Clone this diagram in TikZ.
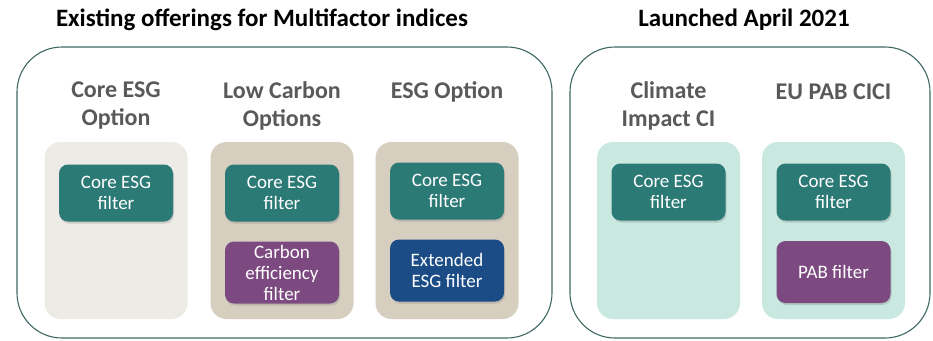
\documentclass[tikz,border=0pt]{standalone}
\usepackage{fontspec}
\setmainfont{Carlito}
\usetikzlibrary{shadows}
\definecolor{frameline}{RGB}{62,104,100}
\definecolor{headgrey}{RGB}{89,89,89}
\definecolor{paleback}{RGB}{237,235,230}
\definecolor{tanback}{RGB}{214,207,192}
\definecolor{mintback}{RGB}{201,233,224}
\definecolor{tealfill}{RGB}{44,122,118}
\definecolor{plumfill}{RGB}{124,74,128}
\definecolor{navyfill}{RGB}{28,76,134}
\begin{document}
\begin{tikzpicture}
  [x=1pt,y=-1pt
  ,group/.style={rectangle,rounded corners=45pt,draw=frameline,line width=1.1pt,
                 minimum height=291pt}
  ,panel/.style={rectangle,rounded corners=16pt,minimum width=143pt,minimum height=177pt}
  ,heading/.style={align=center,text=headgrey,font=\fontsize{24}{28}\selectfont\bfseries}
  ,title/.style={font=\fontsize{25}{28}\selectfont\bfseries}
  ,filterbox/.style={rectangle,rounded corners=9pt,minimum width=114pt,align=center,
                     text=white,font=\fontsize{19}{21}\selectfont,inner sep=1pt,
                     drop shadow={shadow xshift=1pt,shadow yshift=-2pt,opacity=0.3}}
  ,corebox/.style={filterbox,fill=tealfill,minimum height=57pt}
  ,lowerbox/.style={filterbox,minimum height=62pt}]
\useasboundingbox (0,0) rectangle (933,340);
% titles
\node at (262,20) (existing) [title] {Existing offerings for Multifactor indices};
\node at (744,20) (launched) [title] {Launched April 2021};
% outer frames
\node at (284.5,192.5) (oldgroup) [group,minimum width=535pt] {};
\node at (750,192.5) (newgroup) [group,minimum width=360pt] {};
% column panels
\node at (116,230.5)   (coreopt)  [panel,fill=paleback] {};
\node at (282,230.5)   (lowcarb)  [panel,fill=tanback] {};
\node at (447,230.5)   (esgopt)   [panel,fill=tanback] {};
\node at (668.5,230.5) (climate)  [panel,fill=mintback] {};
\node at (833.5,230.5) (eupab)    [panel,fill=mintback] {};
% column headings
\node at (116,106)   (coreopthead) [heading] {Core ESG\\Option};
\node at (282,106)   (lowcarbhead) [heading] {Low Carbon\\Options};
\node at (447,92)    (esgopthead)  [heading] {ESG Option};
\node at (668.5,106) (climatehead) [heading] {Climate\\Impact CI};
\node at (833.5,92)  (eupabhead)   [heading] {EU PAB CICI};
% filters
\node at (116,193)   (corefilt1) [corebox] {Core ESG\\filter};
\node at (282,193)   (corefilt2) [corebox] {Core ESG\\filter};
\node at (447,191)   (corefilt3) [corebox] {Core ESG\\filter};
\node at (668.5,192) (corefilt4) [corebox] {Core ESG\\filter};
\node at (833.5,192) (corefilt5) [corebox] {Core ESG\\filter};
\node at (282,272.5)   (carbfilt) [lowerbox,fill=plumfill] {Carbon\\efficiency\\filter};
\node at (447,270.5)   (extfilt)  [lowerbox,fill=navyfill] {Extended\\ESG filter};
\node at (833.5,272)   (pabfilt)  [lowerbox,fill=plumfill] {PAB filter};
\end{tikzpicture}
\end{document}
